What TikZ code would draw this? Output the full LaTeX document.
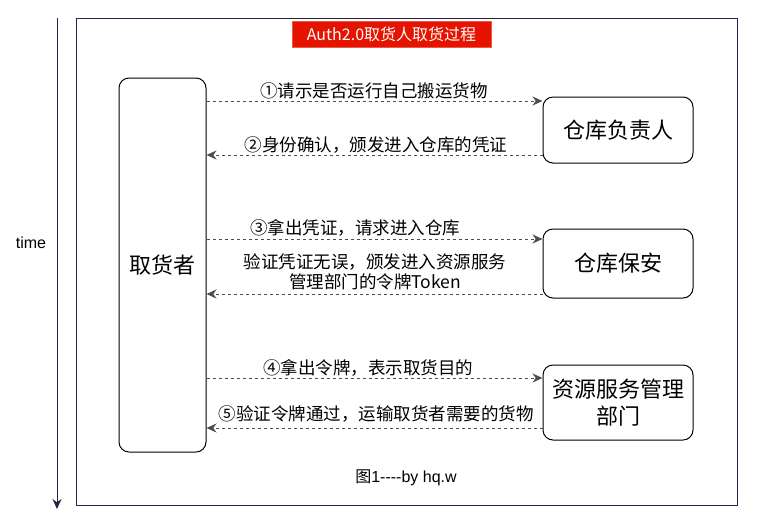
\documentclass[tikz,border=0pt]{standalone}
\usepackage{fontspec}
\setmainfont{Noto Sans CJK SC}
\newfontfamily\latinfont{Liberation Sans}
\usetikzlibrary{arrows.meta}
\definecolor{frame}{HTML}{2B1F45}
\definecolor{titlered}{HTML}{E51400}
\definecolor{arrowgray}{HTML}{4D4D4D}
\tikzset{
  actor/.style={draw=black, rounded corners=10pt, line width=1pt, fill=white, align=center, font=\fontsize{22}{26}\selectfont},
  msg/.style={draw=arrowgray, dashed, line width=1pt, -{Stealth[length=10pt,width=9pt]}},
  lbl/.style={font=\fontsize{17.5}{20}\selectfont, align=center, inner sep=0pt},
}
\begin{document}
\begin{tikzpicture}[x=1pt,y=-1pt]
\useasboundingbox (0,0) rectangle (767,531);
\fill[white] (0,0) rectangle (767,531);
% frame
\draw[frame, line width=1pt] (76,18) rectangle (737,505);
% time axis
\coordinate (t0) at (57,18);
\coordinate (t1) at (57,509);
\draw[frame, line width=1pt, -{Stealth[length=10pt,width=9pt]}] (t0) -- (t1);
\node[font=\latinfont\fontsize{16}{18}\selectfont, anchor=center] (time) at (31,243) {time};
% title
\node[fill=titlered, draw=titlered!70!white, text=white, minimum width=199pt, minimum height=26pt, inner sep=0pt, font=\fontsize{16}{18}\selectfont] (title) at (391.5,34) {Auth2.0取货人取货过程};
% actors
\node[actor, minimum width=87pt, minimum height=374pt] (q) at (162.5,265) {取货者};
\node[actor, minimum width=150pt, minimum height=66pt] (a) at (618,130) {仓库负责人};
\node[actor, minimum width=150pt, minimum height=69pt] (b) at (618,263.5) {仓库保安};
\node[actor, minimum width=150pt, minimum height=75pt, font=\fontsize{22}{27}\selectfont] (c) at (618,402.5) {资源服务管理\\部门};
% messages
\draw[msg] (q.east |- 0,101) -- (a.west |- 0,101);
\node[lbl] (l1) at (374,91) {①请示是否运行自己搬运货物};
\draw[msg] (a.west |- 0,155) -- (q.east |- 0,155);
\node[lbl] (l2) at (376,145) {②身份确认，颁发进入仓库的凭证};
\draw[msg] (q.east |- 0,239) -- (b.west |- 0,239);
\node[lbl] (l3) at (355,228) {③拿出凭证，请求进入仓库};
\draw[msg] (b.west |- 0,294) -- (q.east |- 0,294);
\node[lbl, font=\fontsize{17.5}{20}\selectfont] (l4) at (375,272) {验证凭证无误，颁发进入资源服务\\管理部门的令牌Token};
\draw[msg] (q.east |- 0,378) -- (c.west |- 0,378);
\node[lbl] (l5) at (368,368) {④拿出令牌，表示取货目的};
\draw[msg] (c.west |- 0,428) -- (q.east |- 0,428);
\node[lbl] (l6) at (376,414) {⑤验证令牌通过，运输取货者需要的货物};
% caption
\node[font=\fontsize{16}{18}\selectfont] (cap) at (406,478) {图{\latinfont 1-{}-{}-{}-by hq.w}};
\end{tikzpicture}
\end{document}
